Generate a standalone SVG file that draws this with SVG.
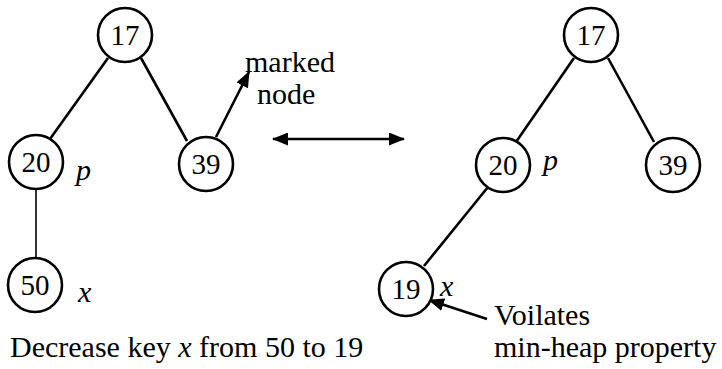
<svg xmlns="http://www.w3.org/2000/svg" width="722" height="369" viewBox="0 0 722 369" font-family="Liberation Serif, DejaVu Serif, Times New Roman, Times, serif">
  <style>
    .node circle { fill: #fff; stroke: #000; stroke-width: 2.6; }
    .node text { font-size: 29px; text-anchor: middle; fill: #000; }
    .edge { stroke: #000; stroke-width: 2.6; fill: none; }
    .thin { stroke: #000; stroke-width: 1.6; fill: none; }
    .lbl { font-size: 30px; fill: #000; }
    .var { font-size: 30px; font-style: italic; fill: #000; }
  </style>
  <defs>
    <marker id="head" viewBox="0 0 16 13" refX="15" refY="6.5" markerWidth="16" markerHeight="13" markerUnits="userSpaceOnUse" orient="auto-start-reverse">
      <path d="M0,0 L16,6.5 L0,13 z" fill="#000"/>
    </marker>
  </defs>
  <rect width="722" height="369" fill="#fff"/>

  <!-- tree edges and pointer arrows -->
  <g id="connectors">
    <line class="edge" x1="108" y1="58" x2="50" y2="139"/>
    <line class="edge" x1="141" y1="58" x2="187" y2="141"/>
    <line class="thin" x1="36" y1="189" x2="36" y2="258"/>
    <line class="edge" x1="574" y1="58" x2="516" y2="142"/>
    <line class="edge" x1="608" y1="58" x2="654" y2="142"/>
    <line class="edge" x1="488" y1="187" x2="424" y2="266"/>
    <line class="edge" x1="216" y1="137" x2="249" y2="72" marker-end="url(#head)"/>
    <line class="edge" x1="273" y1="139" x2="404" y2="139" marker-start="url(#head)" marker-end="url(#head)"/>
    <line class="edge" x1="487" y1="319" x2="429" y2="300" marker-end="url(#head)"/>
  </g>

  <!-- heap before the decrease -->
  <g id="a17" class="node"><circle cx="125" cy="35" r="27"/><text x="125" y="45">17</text></g>
  <g id="a20" class="node"><circle cx="36" cy="162" r="27"/><text x="36" y="172">20</text></g>
  <g id="a39" class="node"><circle cx="206" cy="164" r="27"/><text x="206" y="174">39</text></g>
  <g id="a50" class="node"><circle cx="35" cy="285" r="27"/><text x="35" y="295">50</text></g>

  <!-- heap after the decrease -->
  <g id="b17" class="node"><circle cx="591" cy="35" r="27"/><text x="591" y="45">17</text></g>
  <g id="b20" class="node"><circle cx="503" cy="165" r="27"/><text x="503" y="175">20</text></g>
  <g id="b39" class="node"><circle cx="673" cy="165" r="27"/><text x="673" y="175">39</text></g>
  <g id="b19" class="node"><circle cx="406" cy="289" r="27"/><text x="406" y="299">19</text></g>

  <!-- annotations -->
  <g id="labels">
    <text class="var" x="76" y="180">p</text>
    <text class="var" x="78" y="302">x</text>
    <text class="var" x="543" y="170">p</text>
    <text class="var" x="440" y="296" font-size="27">x</text>
    <text class="lbl" x="245" y="72">marked</text>
    <text class="lbl" x="257" y="104">node</text>
    <text class="lbl" x="494" y="325">Voilates</text>
    <text class="lbl" x="494" y="357">min-heap property</text>
    <text class="lbl" x="10" y="357" font-size="30.5">Decrease key <tspan font-style="italic">x</tspan> from 50 to 19</text>
  </g>
</svg>
